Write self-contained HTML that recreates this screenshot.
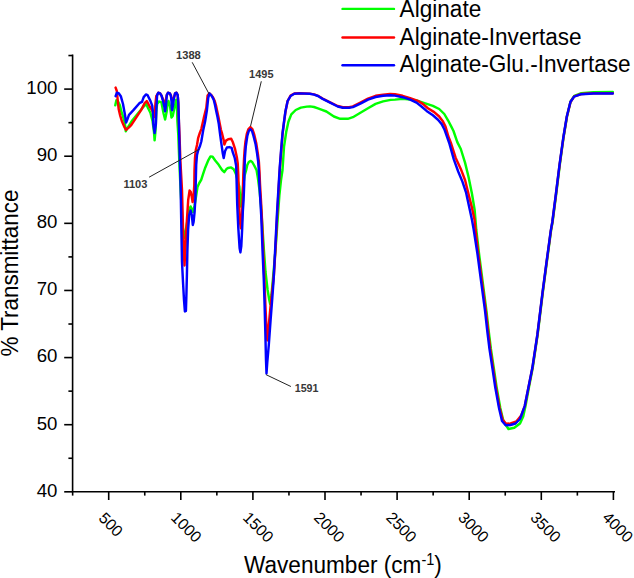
<!DOCTYPE html>
<html><head><meta charset="utf-8"><style>
html,body{margin:0;padding:0;background:#fff;}
svg{display:block;}
text{font-family:"Liberation Sans",sans-serif;fill:#000;}
text.ann{fill:#383838;}
</style></head><body>
<svg width="634" height="578" viewBox="0 0 634 578">
<rect width="634" height="578" fill="#fff"/>
<g fill="none" stroke-width="2.45" stroke-linejoin="round" stroke-linecap="round">
<polyline stroke="#00ff00" points="115.3,105.3 116.4,100.2 118.0,101.5 119.9,105.4 121.2,111.0 122.7,115.6 124.6,121.8 125.3,127.0 125.8,131.3 127.3,128.3 131.6,121.3 138.5,112.7 142.9,107.5 146.3,104.0 148.0,108.0 150.4,112.7 152.6,121.3 154.0,132.0 154.6,140.3 155.4,132.0 156.3,112.0 157.1,104.0 158.9,101.5 161.4,102.3 163.6,113.5 165.1,119.5 166.6,112.0 167.6,103.0 168.4,100.9 170.1,106.6 171.5,117.6 172.7,116.1 174.8,106.6 176.2,99.8 176.9,105.0 177.4,121.0 178.3,135.0 179.3,161.2 180.6,190.0 182.6,225.0 183.9,238.0 185.5,232.0 187.2,222.0 189.2,210.0 190.6,206.5 191.8,209.0 193.0,212.0 194.5,206.0 195.8,198.0 197.5,187.0 199.3,183.0 201.2,179.8 203.2,173.6 205.3,167.4 208.4,160.1 210.5,156.4 212.6,156.8 215.2,160.5 218.7,164.8 222.1,170.0 224.3,172.1 226.4,169.1 228.0,168.0 231.1,167.4 233.7,169.3 235.8,173.7 237.5,180.0 239.3,186.6 240.3,199.6 240.8,206.5 241.8,200.0 243.0,188.0 244.5,176.0 246.2,170.0 247.3,165.0 248.8,162.0 250.4,160.9 252.2,162.0 254.2,165.5 256.6,170.2 257.9,178.0 259.5,190.0 260.9,205.0 262.3,225.0 263.9,250.0 265.5,272.0 267.6,290.0 269.3,300.0 270.2,304.0 271.5,295.0 273.3,275.0 275.5,250.0 277.6,220.0 279.4,195.0 281.0,180.0 282.5,170.0 284.0,146.8 286.2,132.1 288.4,121.8 291.3,114.4 295.7,110.0 300.9,107.6 306.8,106.6 310.0,106.4 314.0,107.0 318.0,108.3 322.0,109.8 326.4,111.5 333.9,116.5 340.2,118.8 347.8,118.8 352.9,117.2 360.4,112.8 368.0,108.3 375.6,103.9 383.1,101.4 390.7,99.9 395.0,99.6 402.6,98.9 410.2,99.5 417.8,100.8 425.3,103.3 432.9,105.8 439.2,109.0 444.3,114.0 448.0,120.3 451.3,126.6 453.5,131.0 457.3,142.1 460.8,149.0 465.1,162.9 468.5,176.7 472.0,194.0 474.6,209.6 476.3,230.0 479.0,253.5 482.7,282.1 486.4,310.6 488.8,332.0 490.9,349.0 493.8,368.1 496.6,387.1 500.3,408.0 503.5,421.5 508.5,429.0 514.3,427.8 520.0,423.6 523.2,416.6 525.5,406.1 529.0,387.1 532.7,368.1 535.5,349.0 537.6,335.0 542.8,292.7 546.9,261.5 551.1,230.4 552.6,222.0 556.2,194.0 559.8,164.9 563.4,138.3 567.0,116.5 570.6,101.5 574.3,95.8 581.3,93.2 593.4,92.2 612.8,92.0"/>
<polyline stroke="#ff0000" points="115.6,87.6 116.8,91.0 117.4,97.0 118.0,103.0 118.7,109.3 120.2,115.6 122.1,121.8 124.3,126.8 126.1,129.9 129.0,127.4 131.4,124.9 136.0,117.9 141.1,110.1 144.6,103.2 146.8,101.0 148.0,103.3 149.8,106.8 152.0,110.0 153.6,114.0 154.4,117.0 155.4,104.0 156.3,96.0 157.1,95.1 158.3,92.7 160.1,93.3 161.5,95.6 163.0,99.5 164.5,102.7 165.6,101.0 166.8,95.1 168.0,92.7 169.8,93.3 170.9,95.6 171.8,99.5 172.4,100.6 173.9,97.5 175.1,93.3 176.5,92.7 177.7,95.1 178.3,102.7 178.9,122.0 179.5,135.0 180.4,161.2 182.0,190.0 183.3,240.0 184.5,265.5 185.6,245.0 186.6,225.0 188.2,200.0 189.6,190.5 190.8,192.0 191.8,197.0 192.6,202.0 193.6,196.0 194.3,185.0 194.5,170.0 195.0,158.0 195.8,150.0 197.0,145.0 198.2,137.8 199.8,133.0 201.3,129.1 203.8,117.9 206.3,107.9 207.6,95.5 209.4,93.3 211.6,95.4 213.2,97.8 214.6,100.7 216.0,105.5 217.2,111.3 218.5,117.3 219.8,124.0 221.0,130.0 222.1,133.7 223.8,140.6 224.4,144.5 226.0,140.6 228.2,139.3 231.2,138.8 232.9,142.3 235.1,149.2 236.8,157.0 237.7,163.1 238.3,175.0 238.9,200.0 240.0,222.0 240.9,228.3 241.8,222.0 242.6,200.0 243.3,175.0 244.0,159.6 244.6,150.0 245.4,142.0 246.8,134.0 248.5,129.0 250.4,127.1 252.3,129.0 254.2,134.5 256.2,143.0 257.8,153.5 258.9,162.0 259.5,172.0 260.0,184.0 261.0,201.0 261.8,216.0 263.3,254.0 264.6,285.0 265.6,310.0 266.6,330.0 267.4,340.4 268.3,330.0 270.2,310.0 272.3,290.0 273.9,275.0 275.3,252.0 277.2,214.7 278.8,186.0 279.9,168.0 281.2,151.2 282.6,133.5 284.1,121.8 285.5,111.5 287.6,101.0 290.6,95.6 294.3,93.5 299.4,93.2 309.7,93.6 314.1,94.4 318.0,95.8 322.6,98.5 330.1,102.3 337.7,106.0 342.8,107.2 349.1,107.2 352.9,106.4 360.4,102.6 368.0,98.6 375.6,95.8 383.1,94.6 390.0,94.0 395.0,94.2 402.6,95.8 410.2,98.2 417.8,100.8 422.8,103.9 427.9,108.3 434.2,112.1 439.2,116.5 443.0,121.6 445.5,126.6 447.4,133.0 448.2,136.0 451.2,143.8 455.6,157.7 460.8,168.9 465.1,180.2 468.5,194.0 472.0,207.9 474.6,220.0 475.5,230.0 478.2,253.5 482.0,282.1 485.8,310.6 488.2,332.0 490.2,349.0 493.1,368.1 495.9,387.1 499.6,408.0 502.6,419.4 506.0,423.8 510.5,423.4 516.5,421.3 521.2,415.6 524.9,405.6 528.6,387.1 532.4,368.1 535.3,349.0 537.4,335.0 542.6,292.7 546.7,261.5 550.9,230.4 552.4,222.0 556.0,194.0 559.6,164.9 563.3,138.3 566.9,116.5 570.5,102.0 574.2,96.4 581.3,94.0 593.4,93.2 612.8,93.2"/>
<polyline stroke="#0000ff" points="115.6,96.2 116.9,92.8 118.7,93.2 120.8,96.2 123.0,104.0 125.0,115.0 126.1,122.6 127.3,119.6 129.0,114.8 133.4,110.1 139.4,103.2 142.0,101.9 143.7,97.1 145.9,94.5 147.6,95.2 150.4,100.9 152.2,105.6 153.0,112.7 153.3,124.0 154.6,133.0 155.9,124.0 156.4,108.0 157.1,95.1 158.3,92.7 160.1,93.3 161.5,95.6 163.0,100.9 164.5,107.4 165.1,111.3 165.6,108.6 166.2,102.7 166.8,95.1 168.0,92.7 169.8,93.3 170.9,95.6 171.5,101.5 171.8,108.0 172.1,110.2 173.0,105.6 173.9,98.6 175.1,93.3 176.5,92.7 177.7,95.1 178.3,102.7 178.6,111.5 178.9,122.0 179.2,135.0 179.9,161.2 180.7,190.0 181.4,230.0 182.0,262.0 183.0,282.0 184.0,300.0 184.9,311.5 185.9,311.0 186.4,295.0 186.9,275.0 187.4,250.0 188.1,230.0 189.2,215.0 190.6,210.5 191.8,215.0 192.8,225.0 193.6,222.0 194.6,212.0 195.4,198.0 195.8,180.0 196.2,165.0 197.0,155.0 198.2,150.3 200.0,146.0 201.3,141.5 203.2,130.3 205.1,121.6 206.9,110.4 208.2,98.0 209.5,93.5 211.3,95.4 212.4,97.1 213.7,99.7 215.0,104.9 216.2,111.0 217.5,117.0 218.8,124.0 219.8,132.0 221.2,142.3 222.8,153.5 223.7,158.0 225.1,151.0 226.9,147.5 229.5,147.1 231.6,147.9 232.9,152.7 234.7,157.9 236.2,166.0 236.7,184.9 237.2,203.9 238.3,228.0 239.6,248.0 240.4,252.4 241.3,246.0 242.2,228.0 242.8,212.0 243.6,199.6 244.2,184.0 244.5,170.0 244.9,157.8 245.8,146.3 247.3,136.0 248.8,131.0 250.4,129.2 252.0,131.0 253.5,136.0 255.6,144.3 257.1,153.6 258.2,161.9 258.8,170.0 259.3,182.3 260.3,199.6 261.2,215.0 262.7,254.5 263.8,280.0 264.6,305.0 265.4,335.0 266.0,360.0 266.5,373.5 267.3,362.0 268.8,345.0 270.6,320.0 272.3,298.0 273.6,280.0 274.9,254.5 276.9,214.7 278.6,186.0 279.7,168.0 281.0,151.2 282.5,133.5 284.0,121.8 285.4,111.5 287.6,101.2 290.6,96.0 294.3,93.8 299.4,93.4 309.7,93.8 314.1,94.6 318.0,96.0 322.6,98.9 330.1,102.7 337.7,106.5 342.8,107.7 349.1,107.7 352.9,107.1 360.4,103.6 368.0,99.6 375.6,97.0 383.1,95.8 390.7,95.3 395.0,95.6 402.6,97.2 410.2,99.6 416.5,102.6 421.5,106.5 426.6,110.9 432.9,115.3 438.0,119.7 441.7,124.1 444.3,129.2 446.6,135.5 449.5,143.8 453.8,159.4 458.2,171.5 462.5,181.9 466.0,192.3 469.4,207.9 472.0,220.0 473.6,229.0 477.4,253.5 481.2,282.1 485.0,310.6 487.4,332.0 489.5,349.0 492.4,368.1 495.2,387.1 499.0,408.0 502.0,421.0 505.7,425.3 510.4,425.0 515.5,423.5 520.0,419.0 524.7,406.1 528.5,387.1 532.3,368.1 535.2,349.0 537.3,335.0 542.5,292.7 546.6,261.5 550.8,230.4 552.3,222.0 555.9,194.0 559.5,164.9 563.2,138.3 566.8,116.5 570.4,102.0 574.1,96.6 581.3,94.2 593.4,93.5 612.8,93.5"/>
</g>
<g stroke="#000" stroke-width="1.6" fill="none">
<polyline points="72.6,55.4 72.6,491.8 614.2,491.8" stroke-linecap="square"/>
<line x1="64.2" y1="491.82" x2="72.6" y2="491.82"/><line x1="68.4" y1="458.26" x2="72.6" y2="458.26"/><line x1="64.2" y1="424.70" x2="72.6" y2="424.70"/><line x1="68.4" y1="391.14" x2="72.6" y2="391.14"/><line x1="64.2" y1="357.58" x2="72.6" y2="357.58"/><line x1="68.4" y1="324.02" x2="72.6" y2="324.02"/><line x1="64.2" y1="290.46" x2="72.6" y2="290.46"/><line x1="68.4" y1="256.90" x2="72.6" y2="256.90"/><line x1="64.2" y1="223.34" x2="72.6" y2="223.34"/><line x1="68.4" y1="189.78" x2="72.6" y2="189.78"/><line x1="64.2" y1="156.22" x2="72.6" y2="156.22"/><line x1="68.4" y1="122.66" x2="72.6" y2="122.66"/><line x1="64.2" y1="89.10" x2="72.6" y2="89.10"/><line x1="68.4" y1="55.54" x2="72.6" y2="55.54"/><line x1="72.65" y1="491.8" x2="72.65" y2="495.6"/><line x1="108.70" y1="491.8" x2="108.70" y2="500"/><line x1="144.75" y1="491.8" x2="144.75" y2="495.6"/><line x1="180.80" y1="491.8" x2="180.80" y2="500"/><line x1="216.85" y1="491.8" x2="216.85" y2="495.6"/><line x1="252.90" y1="491.8" x2="252.90" y2="500"/><line x1="288.95" y1="491.8" x2="288.95" y2="495.6"/><line x1="325.00" y1="491.8" x2="325.00" y2="500"/><line x1="361.05" y1="491.8" x2="361.05" y2="495.6"/><line x1="397.10" y1="491.8" x2="397.10" y2="500"/><line x1="433.15" y1="491.8" x2="433.15" y2="495.6"/><line x1="469.20" y1="491.8" x2="469.20" y2="500"/><line x1="505.25" y1="491.8" x2="505.25" y2="495.6"/><line x1="541.30" y1="491.8" x2="541.30" y2="500"/><line x1="577.35" y1="491.8" x2="577.35" y2="495.6"/><line x1="613.40" y1="491.8" x2="613.40" y2="500"/>
</g>
<g font-size="18.6"><text transform="translate(57.4,496.72) scale(1,1.03)" text-anchor="end">40</text><text transform="translate(57.4,429.60) scale(1,1.03)" text-anchor="end">50</text><text transform="translate(57.4,362.48) scale(1,1.03)" text-anchor="end">60</text><text transform="translate(57.4,295.36) scale(1,1.03)" text-anchor="end">70</text><text transform="translate(57.4,228.24) scale(1,1.03)" text-anchor="end">80</text><text transform="translate(57.4,161.12) scale(1,1.03)" text-anchor="end">90</text><text transform="translate(57.4,94.00) scale(1,1.03)" text-anchor="end">100</text></g>
<g font-size="15.8"><text transform="translate(97.70,519.00) rotate(45)">500</text><text transform="translate(170.00,518.60) rotate(45)">1000</text><text transform="translate(242.10,518.60) rotate(45)">1500</text><text transform="translate(313.10,518.60) rotate(45)">2000</text><text transform="translate(385.20,518.60) rotate(45)">2500</text><text transform="translate(457.30,518.60) rotate(45)">3000</text><text transform="translate(529.40,518.60) rotate(45)">3500</text><text transform="translate(601.50,518.60) rotate(45)">4000</text></g>
<text transform="translate(18.0,356.6) rotate(-90) scale(1,1.09)" font-size="22.4" textLength="167" lengthAdjust="spacingAndGlyphs">% Transmittance</text>
<text transform="translate(244.0,572.8) scale(1,1.09)" font-size="22.6">Wavenumber (cm<tspan font-size="14.6" dy="-7.4">-1</tspan><tspan dy="7.4">)</tspan></text>
<g stroke-width="2.4" stroke-linecap="round">
<line x1="342.5" y1="8.9" x2="394.0" y2="8.9" stroke="#00ff00"/>
<line x1="342.5" y1="37.5" x2="394.0" y2="37.5" stroke="#ff0000"/>
<line x1="342.5" y1="65.2" x2="394.0" y2="65.2" stroke="#0000ff"/>
</g>
<g font-size="22.6">
<text transform="translate(399.6,16.7) scale(1,1.09)">Alginate</text>
<text transform="translate(399.6,44.7) scale(1,1.09)">Alginate-Invertase</text>
<text transform="translate(399.6,72.3) scale(1,1.09)">Alginate-Glu.-Invertase</text>
</g>
<g stroke="#222" stroke-width="1">
<line x1="192.2" y1="62.3" x2="209.1" y2="94"/>
<line x1="261.3" y1="81.3" x2="250.5" y2="126.3"/>
<line x1="149.1" y1="177.2" x2="199.5" y2="149.2"/>
<line x1="266.1" y1="374.7" x2="290.9" y2="386.5"/>
</g>
<g font-size="10.4" font-weight="bold" style="fill:#333">
<text class="ann" x="176.0" y="59.2" textLength="24.8" lengthAdjust="spacingAndGlyphs">1388</text>
<text class="ann" x="249.1" y="77.8" textLength="24.4" lengthAdjust="spacingAndGlyphs">1495</text>
<text class="ann" x="123.4" y="188.0" textLength="24" lengthAdjust="spacingAndGlyphs">1103</text>
<text class="ann" x="294.7" y="391.8" textLength="23.8" lengthAdjust="spacingAndGlyphs">1591</text>
</g>
</svg>
</body></html>
